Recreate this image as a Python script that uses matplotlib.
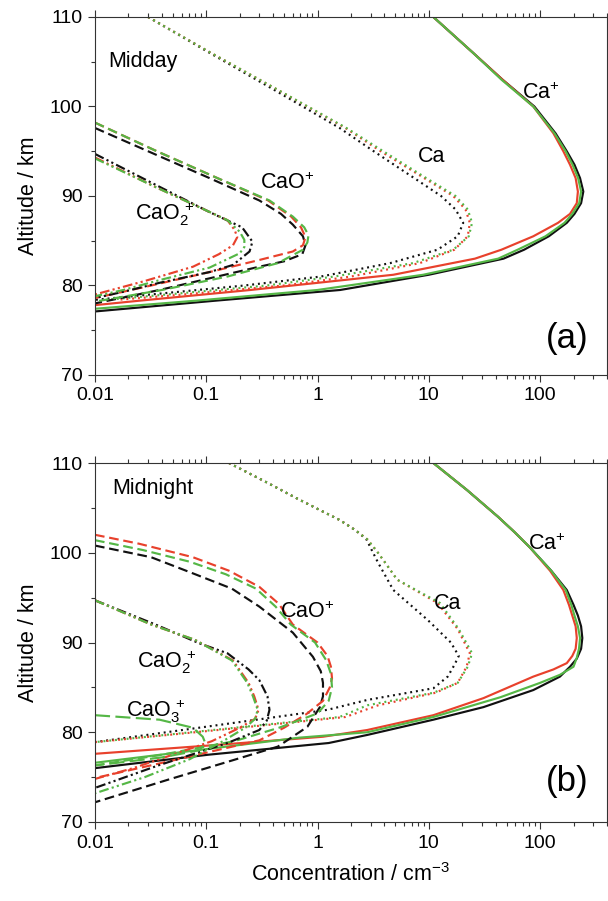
import numpy as np
import matplotlib
matplotlib.use('Agg')
from matplotlib import pyplot as plt
from matplotlib.ticker import LogLocator, FuncFormatter, MultipleLocator

plt.rcParams['font.family'] = ['Liberation Sans', 'DejaVu Sans']
plt.rcParams['mathtext.fontset'] = 'custom'
plt.rcParams['mathtext.rm'] = 'Liberation Sans'
plt.rcParams['mathtext.it'] = 'Liberation Sans:italic'

BLACK = '#111111'
RED = '#e8412c'
GREEN = '#55b746'

# ---------------- panel (a) midday ----------------
# Ca+ (solid)
a_cap_alt = [110, 106, 103, 100, 97, 95, 93.5, 92, 90.5, 89.2, 88, 87, 85.5, 84, 83, 81.2, 79.5, 78.3, 77.1]
a_cap_k = [11, 25, 46, 89, 138, 174, 204, 229, 245, 234, 204, 174, 120, 72, 47, 10, 1.6, 0.12, 0.01]
a_cap_r = [11, 25, 46, 87, 132, 162, 186, 209, 219, 214, 186, 145, 87, 45, 26, 4.8, 0.25, 0.025, 0.0027]
a_cap_g = [11, 25, 45, 87, 135, 170, 196, 220, 234, 225, 195, 166, 112, 63, 42, 8.9, 1.0, 0.08, 0.005]

# Ca (dotted)
a_ca_alt = [110, 106, 102, 97.6, 95, 92, 90, 88.5, 87, 85.5, 84, 82.5, 81, 80, 79, 78.4]
a_ca_k = [0.030, 0.107, 0.39, 1.58, 3.2, 7.4, 12.9, 17.4, 20.4, 18.2, 12.0, 4.5, 1.07, 0.22, 0.032, 0.010]
a_ca_r = [0.030, 0.11, 0.42, 1.78, 3.7, 9.1, 16.6, 21.4, 23.4, 22.4, 17.0, 8.3, 2.0, 0.5, 0.063, 0.016]
a_ca_g = [0.030, 0.11, 0.42, 1.82, 3.9, 9.5, 17.4, 22.4, 24.5, 22.9, 16.6, 7.2, 1.41, 0.35, 0.045, 0.0126]

# CaO+ (dashed)
a_cao_k_alt = [97.6, 95, 92, 89.5, 88, 86.8, 85.5, 84.5, 83.5, 82.7, 82.1, 80.8, 79.5, 78]
a_cao_k = [0.010, 0.030, 0.107, 0.30, 0.47, 0.60, 0.74, 0.78, 0.73, 0.50, 0.30, 0.107, 0.038, 0.010]
a_cao_r_alt = [98.2, 95, 92, 89.5, 87.7, 86.5, 85.4, 84.5, 83.8, 82.85, 81.5, 80, 78.6]
a_cao_r = [0.010, 0.036, 0.126, 0.36, 0.58, 0.71, 0.78, 0.74, 0.60, 0.30, 0.107, 0.032, 0.010]
a_cao_g_alt = [98.2, 95, 92, 89.5, 87.7, 86.5, 85.6, 84.8, 84, 82.5, 81, 79.5, 78.2]
a_cao_g = [0.010, 0.036, 0.126, 0.37, 0.60, 0.76, 0.83, 0.81, 0.74, 0.44, 0.155, 0.040, 0.010]

# CaO2+ (dash-dot-dot)
a_cao2_k_alt = [94.7, 91.5, 88.2, 86.5, 84.9, 83.8, 82.3, 81.5, 80.3, 79.3, 78.6]
a_cao2_k = [0.010, 0.032, 0.107, 0.21, 0.26, 0.245, 0.174, 0.107, 0.038, 0.018, 0.010]
a_cao2_r_alt = [94.3, 91, 87.3, 86.2, 85.4, 84.5, 83.5, 82.1, 80.5, 79]
a_cao2_r = [0.010, 0.035, 0.155, 0.18, 0.19, 0.174, 0.13, 0.076, 0.028, 0.010]
a_cao2_g_alt = [94.2, 91, 87.3, 86, 85.1, 84.3, 83.6, 82, 80.6, 79.5, 78.8]
a_cao2_g = [0.010, 0.035, 0.155, 0.20, 0.22, 0.22, 0.20, 0.107, 0.038, 0.018, 0.010]

# ---------------- panel (b) midnight ----------------
b_cap_k_alt = [110, 107, 104, 102.3, 100.6, 98, 95.85, 94.2, 93, 91.8, 90.5, 89.3, 88.2, 87.3, 86.2,
               84.7, 82.8, 81.4, 79.7, 78.8, 77.5, 76]
b_cap_k = [11, 22, 42, 59, 81, 126, 174, 200, 219, 234, 240, 234, 214, 186, 151,
           87, 31, 11, 2.8, 1.26, 0.105, 0.010]
b_cap_r_alt = [110, 107, 104, 102.3, 100.6, 98, 95.85, 94.2, 93, 91.8, 90.5, 89.3, 88.5, 87.7, 87.0,
               86.2, 83.8, 81.9, 80.25, 79.5, 78.5, 77.6]
b_cap_r = [11, 22, 42, 59, 81, 123, 162, 182, 195, 209, 214, 209, 195, 174, 132,
           87, 31, 11, 2.8, 1.12, 0.10, 0.010]
b_cap_g_alt = [110, 107, 104, 102.3, 100.6, 98, 95.85, 94.2, 93, 91.8, 90.5, 89.3, 88.3, 87.3, 86.4,
               85.5, 83.9, 81.7, 80, 79.4, 78, 76.6]
b_cap_g = [11, 22, 42, 59, 81, 126, 170, 191, 204, 219, 229, 224, 214, 200, 151,
           100, 44, 11, 2.8, 0.69, 0.083, 0.010]

b_ca_k_alt = [110, 108, 105.9, 103.65, 102.5, 101.5, 100.2, 98.9, 95.85, 92.5, 90, 88.5, 87.5, 86.2, 84.9,
              83.6, 82.5, 80.7, 78.9]
b_ca_k = [0.16, 0.33, 0.69, 1.58, 2.2, 2.75, 3.1, 3.5, 4.8, 9.8, 15.8, 18.6, 17.0, 14.8, 11.0,
          2.8, 1.23, 0.112, 0.010]
b_ca_r_alt = [110, 108, 105.9, 103.65, 102.5, 101.5, 100.2, 99, 97, 94.4, 91.5, 88.8, 87.3, 85.5, 84.4,
              83.0, 81.7, 80.3, 78.9]
b_ca_r = [0.16, 0.33, 0.69, 1.58, 2.2, 2.8, 3.4, 4.0, 5.2, 12.0, 18.2, 23.4, 21.9, 18.2, 11.5,
          3.5, 1.78, 0.14, 0.010]
b_ca_g_alt = [110, 108, 105.9, 103.65, 102.5, 101.5, 100.2, 99, 97, 94.4, 91.5, 88.8, 87.3, 85.5, 84.4,
              83.0, 81.7, 80.3, 78.9]
b_ca_g = [0.16, 0.33, 0.69, 1.58, 2.2, 2.8, 3.4, 4.0, 5.2, 12.6, 18.6, 24.5, 22.4, 18.2, 11.0,
          2.8, 1.58, 0.126, 0.010]

b_cao_k_alt = [100.8, 99.5, 97.7, 96, 94.0, 91.1, 88.4, 86.8, 85.5, 84, 82.8, 80.6, 78.4, 76.7, 74.7, 72.2]
b_cao_k = [0.010, 0.032, 0.076, 0.17, 0.30, 0.60, 0.91, 1.07, 1.12, 1.12, 1.05, 0.81, 0.44, 0.155, 0.045, 0.010]
b_cao_r_alt = [102, 101, 99.5, 98, 96.2, 94.3, 92, 90, 88.5, 87.3, 86, 85, 83.5, 82, 80.5, 79.1, 77, 74.9]
b_cao_r = [0.010, 0.025, 0.076, 0.16, 0.30, 0.45, 0.60, 1.0, 1.23, 1.32, 1.35, 1.29, 1.12, 0.79, 0.50, 0.30,
           0.056, 0.010]
b_cao_g_alt = [101.4, 100.3, 99, 97.6, 96, 94, 92, 90, 88, 86.5, 85, 83.5, 82.1, 80.5, 79, 77.5, 76.3]
b_cao_g = [0.010, 0.027, 0.071, 0.15, 0.28, 0.42, 0.575, 0.95, 1.20, 1.32, 1.35, 1.26, 1.0, 0.45, 0.178,
           0.040, 0.010]

b_cao2_k_alt = [94.7, 92, 89.9, 88.8, 87, 85.8, 84, 82.5, 81.3, 80.25, 78.8, 76.35, 73.8]
b_cao2_k = [0.010, 0.035, 0.087, 0.155, 0.24, 0.30, 0.355, 0.37, 0.35, 0.30, 0.155, 0.038, 0.010]
b_cao2_r_alt = [94.7, 92, 90.3, 88, 85.5, 84, 82.5, 81.5, 80.5, 79, 77.5, 76, 74.8]
b_cao2_r = [0.010, 0.032, 0.079, 0.174, 0.24, 0.27, 0.295, 0.275, 0.20, 0.112, 0.050, 0.022, 0.010]
b_cao2_g_alt = [94.7, 92, 90.3, 88, 85.5, 84, 82.5, 81.5, 80.5, 79, 77, 75, 73.2]
b_cao2_g = [0.010, 0.032, 0.079, 0.17, 0.234, 0.263, 0.29, 0.275, 0.224, 0.141, 0.071, 0.028, 0.010]

# CaO3+ (long dash, green)
b_cao3_g_alt = [81.9, 81.4, 80.5, 79.5, 78.8, 78.0, 77.2, 76.3]
b_cao3_g = [0.010, 0.038, 0.076, 0.093, 0.098, 0.087, 0.040, 0.010]

xticks = [0.01, 0.1, 1, 10, 100]
xticklabels = ['0.01', '0.1', '1', '10', '100']
yticks = [70, 80, 90, 100, 110]

ls_solid = '-'
ls_dot = (0, (0.9, 1.8))
ls_dash = (0, (4.5, 2.2))
ls_dd = (0, (4.5, 1.5, 1, 1.5, 1, 1.5))
ls_long = (0, (7, 2.5))
LW = 1.55

fig = plt.figure(figsize=(6.08, 9.01), dpi=100)
ax_a = fig.add_axes([95/608, 1-375/901, 512/608, 358/901])
ax_b = fig.add_axes([95/608, 1-822/901, 512/608, 359/901])


def draw(ax, x, y, c, ls):
    ax.plot(x, y, color=c, ls=ls, lw=LW, solid_capstyle='butt', dash_capstyle='butt',
            solid_joinstyle='round')


# panel a
draw(ax_a, a_cap_k, a_cap_alt, BLACK, ls_solid)
draw(ax_a, a_cap_r, a_cap_alt, RED, ls_solid)
draw(ax_a, a_cap_g, a_cap_alt, GREEN, ls_solid)
draw(ax_a, a_ca_k, a_ca_alt, BLACK, ls_dot)
draw(ax_a, a_ca_r, a_ca_alt, RED, ls_dot)
draw(ax_a, a_ca_g, a_ca_alt, GREEN, ls_dot)
draw(ax_a, a_cao_k, a_cao_k_alt, BLACK, ls_dash)
draw(ax_a, a_cao_r, a_cao_r_alt, RED, ls_dash)
draw(ax_a, a_cao_g, a_cao_g_alt, GREEN, ls_dash)
draw(ax_a, a_cao2_k, a_cao2_k_alt, BLACK, ls_dd)
draw(ax_a, a_cao2_r, a_cao2_r_alt, RED, ls_dd)
draw(ax_a, a_cao2_g, a_cao2_g_alt, GREEN, ls_dd)

# panel b
draw(ax_b, b_cap_k, b_cap_k_alt, BLACK, ls_solid)
draw(ax_b, b_cap_r, b_cap_r_alt, RED, ls_solid)
draw(ax_b, b_cap_g, b_cap_g_alt, GREEN, ls_solid)
draw(ax_b, b_ca_k, b_ca_k_alt, BLACK, ls_dot)
draw(ax_b, b_ca_r, b_ca_r_alt, RED, ls_dot)
draw(ax_b, b_ca_g, b_ca_g_alt, GREEN, ls_dot)
draw(ax_b, b_cao_k, b_cao_k_alt, BLACK, ls_dash)
draw(ax_b, b_cao_r, b_cao_r_alt, RED, ls_dash)
draw(ax_b, b_cao_g, b_cao_g_alt, GREEN, ls_dash)
draw(ax_b, b_cao2_k, b_cao2_k_alt, BLACK, ls_dd)
draw(ax_b, b_cao2_r, b_cao2_r_alt, RED, ls_dd)
draw(ax_b, b_cao2_g, b_cao2_g_alt, GREEN, ls_dd)
draw(ax_b, b_cao3_g, b_cao3_g_alt, GREEN, ls_long)

for ax in (ax_a, ax_b):
    ax.set_xscale('log')
    ax.set_xlim(0.01, 400)
    ax.set_ylim(70, 110)
    ax.set_xticks(xticks)
    ax.set_xticklabels(xticklabels)
    ax.xaxis.set_minor_locator(LogLocator(base=10, subs=np.arange(2, 10)))
    ax.xaxis.set_minor_formatter(FuncFormatter(lambda v, p: ''))
    ax.set_yticks(yticks)
    ax.yaxis.set_minor_locator(MultipleLocator(5))
    ax.tick_params(which='both', direction='out', top=True, right=True,
                   labelsize=14, width=0.8, color='#333333')
    ax.tick_params(which='major', length=5, pad=4)
    ax.tick_params(which='minor', length=3)
    for s in ax.spines.values():
        s.set_linewidth(0.8)
        s.set_color('#333333')
    ax.set_ylabel('Altitude / km', fontsize=15.5, labelpad=8)

ax_b.set_xlabel(r'Concentration / $\mathrm{cm^{-3}}$', fontsize=15.5, labelpad=8)

fs = 15.5
ax_a.text(0.0131, 105.0, 'Midday', fontsize=fs, va='center', ha='left')
ax_a.text(0.53, 91.4, r'$\mathrm{CaO^{+}}$', fontsize=fs, va='center', ha='center')
ax_a.text(0.042, 88.0, r'$\mathrm{CaO_2^{\,+}}$', fontsize=fs, va='center', ha='center')
ax_a.text(10.7, 94.4, 'Ca', fontsize=fs, va='center', ha='center')
ax_a.text(102, 101.5, r'$\mathrm{Ca^{+}}$', fontsize=fs, va='center', ha='center')
ax_a.text(174, 74.1, '(a)', fontsize=25, va='center', ha='center')

ax_b.text(0.0142, 107.2, 'Midnight', fontsize=fs, va='center', ha='left')
ax_b.text(0.81, 93.4, r'$\mathrm{CaO^{+}}$', fontsize=fs, va='center', ha='center')
ax_b.text(0.0436, 87.8, r'$\mathrm{CaO_2^{\,+}}$', fontsize=fs, va='center', ha='center')
ax_b.text(0.035, 82.3, r'$\mathrm{CaO_3^{\,+}}$', fontsize=fs, va='center', ha='center')
ax_b.text(14.8, 94.4, 'Ca', fontsize=fs, va='center', ha='center')
ax_b.text(115, 100.9, r'$\mathrm{Ca^{+}}$', fontsize=fs, va='center', ha='center')
ax_b.text(174, 74.5, '(b)', fontsize=25, va='center', ha='center')

fig.savefig('out.png', dpi=100)
